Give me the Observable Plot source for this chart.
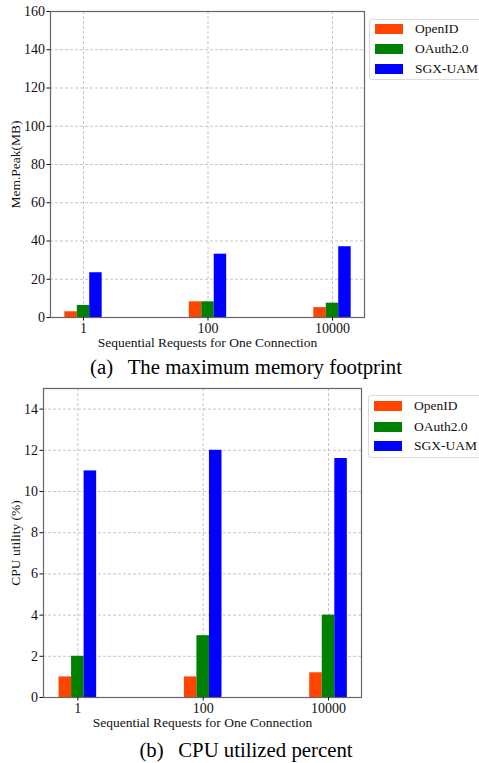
<!DOCTYPE html>
<html><head><meta charset="utf-8">
<script src="https://cdn.jsdelivr.net/npm/d3@7"></script>
<script src="https://cdn.jsdelivr.net/npm/@observablehq/plot@0.6"></script>
<style>
body{margin:0;background:#fff;overflow:hidden;font-family:"Liberation Serif","DejaVu Serif",serif;}
#root{position:relative;width:479px;height:763px;overflow:hidden;}
.chart{position:absolute;left:0;}
.chart text{font-family:"Liberation Serif","DejaVu Serif",serif !important;}
.legend{position:absolute;border:1px solid #dcdcdc;border-radius:3px;background:#fff;width:140px;box-sizing:border-box;}
.row{position:absolute;left:0;height:20px;width:140px;}
.sw{position:absolute;left:5px;width:28px;height:10px;}
.lt{position:absolute;left:45px;font-size:13.5px;line-height:20px;white-space:nowrap;color:#111;}
.cap{position:absolute;left:246px;transform:translate(-50%,-50%);font-size:20.8px;white-space:nowrap;color:#000;}
.gap{display:inline-block;width:0.7em;}
</style></head>
<body><div id="root"></div>
<script>
const categories = ["1", "100", "10000"];
const methods = ["OpenID", "OAuth2.0", "SGX-UAM"];
const colors = ["#FF4500", "#008000", "#0000FF"];
const memOpenID = [3.0, 8.2, 5.2];
const memOAuth = [6.3, 8.2, 7.5];
const memSGX = [23.4, 33.1, 37.0];
const cpuOpenID = [1.0, 1.0, 1.2];
const cpuOAuth = [2.0, 3.0, 4.0];
const cpuSGX = [11.0, 12.0, 11.6];
const memTicks = [0, 20, 40, 60, 80, 100, 120, 140, 160];
const cpuTicks = [0, 2, 4, 6, 8, 10, 12, 14];
const xLabel = "Sequential Requests for One Connection";

const BAR = 0.1;
const FONT = '"Liberation Serif", serif';
function rows(series) {
  const out = [];
  series.forEach((vals, m) => vals.forEach((v, i) => out.push({i, m, method: methods[m], value: v})));
  return out;
}

function chart(cfg) {
  return Plot.plot({
    width: 479, height: cfg.height,
    marginTop: cfg.mt, marginBottom: cfg.mb, marginLeft: cfg.ml, marginRight: cfg.mr,
    style: 'font-family: "Liberation Serif", serif; font-size: 14px; color: #111; background: transparent;',
    x: {domain: cfg.xdom},
    y: {domain: cfg.ydom},
    color: {domain: methods, range: colors},
    marks: [
      Plot.gridY(cfg.yticks, {stroke: "#b8b8b8", strokeOpacity: 0.8, strokeDasharray: "3,2"}),
      Plot.gridX([0, 1, 2], {stroke: "#b8b8b8", strokeOpacity: 0.8, strokeDasharray: "3,2"}),
      Plot.rectY(cfg.data, {
        x1: d => d.i + (d.m - 1) * BAR - BAR / 2,
        x2: d => d.i + (d.m - 1) * BAR + BAR / 2,
        y: "value", fill: "method", inset: 0
      }),
      Plot.frame({stroke: "#666", strokeWidth: 1.2}),
      Plot.axisY({ticks: cfg.yticks, tickSize: 3.5, tickPadding: 2, label: null, fontFamily: FONT, fontSize: 14}),
      Plot.axisX({ticks: [0, 1, 2], tickFormat: i => categories[i], tickSize: 3.5, tickPadding: 2,
        label: null, fontFamily: FONT, fontSize: 14}),
      Plot.text([xLabel], {frameAnchor: "bottom", dy: 25, lineAnchor: "middle", textAnchor: "middle",
        fontFamily: FONT, fontSize: 13.5, fill: "#111"}),
      Plot.text([cfg.ylabel], {frameAnchor: "left", dx: cfg.ydx, rotate: -90, lineAnchor: "middle",
        textAnchor: "middle", fontFamily: FONT, fontSize: 13.5, fill: "#111"})
    ]
  });
}

const root = document.getElementById("root");

function place(el, top) { el.classList.add("chart"); el.style.top = top + "px"; root.appendChild(el); }

place(chart({height: 350, mt: 11, mb: 33, ml: 50, mr: 115, xdom: [-0.265, 2.257], ydom: [0, 160],
  yticks: memTicks, ylabel: "Mem.Peak(MB)", ydx: -35,
  data: rows([memOpenID, memOAuth, memSGX])}), 0);

place(chart({height: 352, mt: 10, mb: 33, ml: 43, mr: 118, xdom: [-0.274, 2.263], ydom: [0, 15],
  yticks: cpuTicks, ylabel: "CPU utility (%)", ydx: -28,
  data: rows([cpuOpenID, cpuOAuth, cpuSGX])}), 378);

function legend(left, top, h, rowTops) {
  const box = document.createElement("div");
  box.className = "legend";
  box.style.left = left + "px"; box.style.top = top + "px"; box.style.height = h + "px";
  methods.forEach((m, k) => {
    const r = document.createElement("div");
    r.className = "row"; r.style.top = rowTops[k] + "px";
    const s = document.createElement("div");
    s.className = "sw"; s.style.top = "5px"; s.style.background = colors[k];
    const t = document.createElement("div");
    t.className = "lt"; t.textContent = m;
    r.appendChild(s); r.appendChild(t); box.appendChild(r);
  });
  root.appendChild(box);
}
legend(369, 19, 61, [-1.5, 18.5, 38.5]);
legend(368, 395, 63, [0, 20.5, 40]);

function caption(label, text, cy) {
  const c = document.createElement("div");
  c.className = "cap"; c.style.top = cy + "px";
  c.innerHTML = label + '<span class="gap"></span>' + text;
  root.appendChild(c);
}
caption("(a)", "The maximum memory footprint", 367);
caption("(b)", "CPU utilized percent", 750);
</script></body></html>
